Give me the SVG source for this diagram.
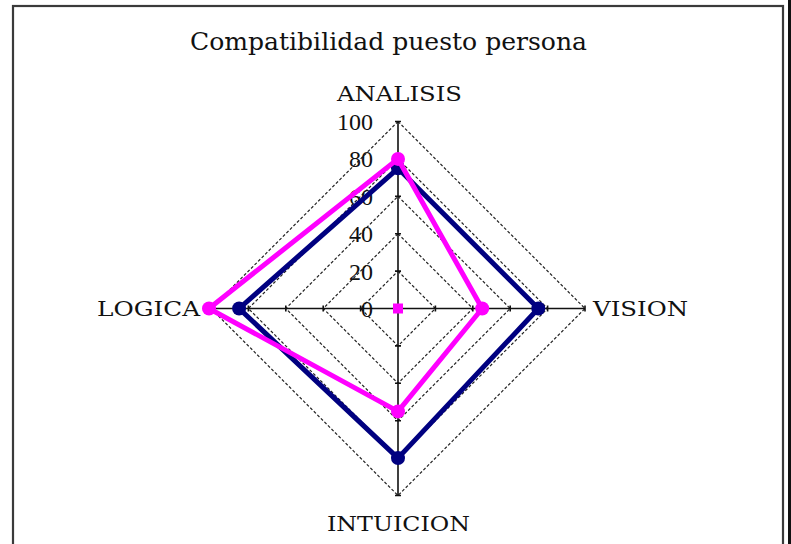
<svg xmlns="http://www.w3.org/2000/svg" width="791" height="544" viewBox="0 0 791 544">
<style>
text{font-family:"DejaVu Serif","Liberation Serif",serif;fill:#111}
.t{font-size:24px}
.ax{font-size:21px}
.tk{font-family:"Liberation Serif","DejaVu Serif",serif;font-size:24px;text-anchor:end}
.grid{fill:none;stroke:#222;stroke-width:1.2;stroke-dasharray:3 2}
.axis{stroke:#111;stroke-width:1.6;fill:none}
.navy{fill:none;stroke:#000080;stroke-width:5;stroke-linejoin:round}
.mag{fill:none;stroke:#ff00ff;stroke-width:5;stroke-linejoin:round}
</style>
<rect x="0" y="0" width="791" height="544" fill="#fff"/>
<rect x="13" y="6" width="770" height="560" fill="#fff" stroke="#3a3a3a" stroke-width="2.2"/>
<rect x="788" y="0" width="3" height="544" fill="#111"/>
<text class="t" x="190" y="50" textLength="397" lengthAdjust="spacingAndGlyphs">Compatibilidad puesto persona</text>
<g id="grid">
<polygon class="grid" points="398,271.1 435.4,308.5 398,345.9 360.6,308.5"/>
<polygon class="grid" points="398,233.7 472.8,308.5 398,383.3 323.2,308.5"/>
<polygon class="grid" points="398,196.3 510.2,308.5 398,420.7 285.8,308.5"/>
<polygon class="grid" points="398,158.9 547.6,308.5 398,458.1 248.4,308.5"/>
<polygon class="grid" points="398,121.5 585,308.5 398,495.5 211,308.5"/>
</g>
<g id="axes">
<path class="axis" d="M398,121.5V495.5M211,308.5H585"/>
<path class="axis" d="M395,271.1h6M395,233.7h6M395,196.3h6M395,158.9h6M395,121.5h6M395,345.9h6M395,383.3h6M395,420.7h6M395,458.1h6M395,495.5h6
M435.4,305.5v6M472.8,305.5v6M510.2,305.5v6M547.6,305.5v6M585,305.5v6M360.6,305.5v6M323.2,305.5v6M285.8,305.5v6M248.4,305.5v6M211,305.5v6"/>
</g>
<g id="ticks">
<text class="tk" x="373" y="130">100</text>
<text class="tk" x="373" y="167">80</text>
<text class="tk" x="373" y="205">60</text>
<text class="tk" x="373" y="242">40</text>
<text class="tk" x="373" y="280">20</text>
<text class="tk" x="373" y="317">0</text>
</g>
<g id="label-analisis"><text class="ax" x="337" y="101" textLength="125" lengthAdjust="spacingAndGlyphs">ANALISIS</text></g>
<g id="label-vision"><text class="ax" x="593" y="316" textLength="95" lengthAdjust="spacingAndGlyphs">VISION</text></g>
<g id="label-logica"><text class="ax" x="97" y="316" textLength="103" lengthAdjust="spacingAndGlyphs">LOGICA</text></g>
<g id="label-intuicion"><text class="ax" x="327" y="531" textLength="143" lengthAdjust="spacingAndGlyphs">INTUICION</text></g>
<g id="series-puesto">
<polygon class="navy" points="398,168.3 538.3,308.5 398,458.1 239.1,308.5"/>
<g fill="#000080">
<circle cx="398" cy="168.3" r="7"/><circle cx="538.3" cy="308.5" r="7"/><circle cx="398" cy="458.1" r="7"/><circle cx="239.1" cy="308.5" r="7"/>
</g>
</g>
<g id="series-persona">
<polygon class="mag" points="398,158.9 482.2,308.5 398,411.4 209,308.5"/>
<g fill="#ff00ff">
<circle cx="398" cy="158.9" r="7"/><circle cx="482.2" cy="308.5" r="7"/><circle cx="398" cy="411.4" r="7"/><circle cx="209" cy="308.5" r="7"/>
<rect x="393" y="303.5" width="10" height="10"/>
</g>
</g>
</svg>
